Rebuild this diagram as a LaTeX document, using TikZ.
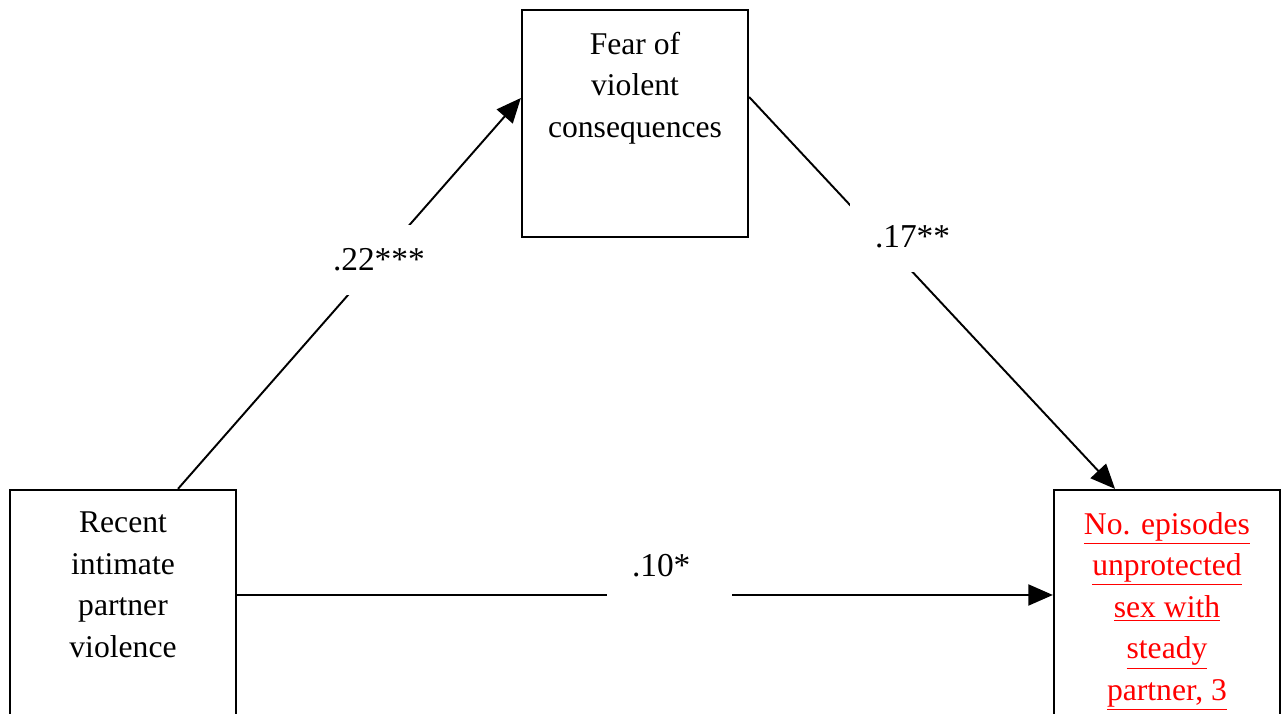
\documentclass[tikz,border=0pt]{standalone}
\usepackage{fontspec}
\setmainfont{Liberation Serif}
\usepackage{tikz}
\usetikzlibrary{arrows.meta, positioning}
\tikzset{
  varbox/.style={draw=black, line width=1.3pt, fill=white,
                 minimum width=4.52cm, minimum height=4.54cm, inner sep=0pt},
  boxtext/.style={align=center, inner sep=0pt,
                  font=\fontsize{18}{23.6}\selectfont},
  path1/.style={draw=black, line width=1.1pt,
                -{Triangle[length=14pt, width=12pt]}},
  coef/.style={fill=white, text width=1.5cm, align=left, inner xsep=0.5cm,
               minimum height=1.4cm, font=\fontsize{19}{22}\selectfont},
}
\begin{document}
\begin{tikzpicture}
    \useasboundingbox (0,0) rectangle (25.72,14.26);
    \clip (0,0) rectangle (25.72,14.26);
    %% the three variables
    \node[varbox] (fear) at (12.70,11.79) {};
    \node[varbox] (ipv)  at (2.46,2.19)   {};
    \node[varbox] (usex) at (23.34,2.19)  {};
    \node[boxtext, below=0.46cm of fear.north] (fearT)
      {Fear of\\violent\\consequences};
    \node[boxtext, below=0.46cm of ipv.north] (ipvT)
      {Recent\\intimate\\partner\\violence};
    \node[boxtext, below=0.46cm of usex.north, text=red] (usexT)
      {\underline{No. episodes}\\\underline{unprotected}\\\underline{sex with}\\%
       \underline{steady}\\\underline{partner, 3}};
    %% paths
    \draw[path1] ([xshift=1.1cm]ipv.north) -- ([yshift=0.51cm]fear.west);
    \draw[path1] ([yshift=0.53cm]fear.east) -- ([xshift=-1.04cm]usex.north);
    \draw[path1] ([yshift=0.17cm]ipv.east) -- ([yshift=0.17cm]usex.west);
    %% coefficients
    \node[coef] (a) at (7.41,9.06)  {.22***};
    \node[coef] (b) at (18.25,9.52) {.17**};
    \node[coef] (c) at (13.39,2.94) {.10*};
\end{tikzpicture}
\end{document}
